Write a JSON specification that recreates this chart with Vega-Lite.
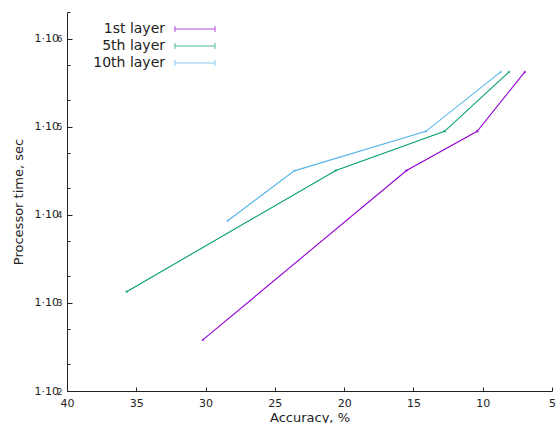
{
  "$schema": "https://vega.github.io/schema/vega-lite/v6.json",
  "autosize": {"type": "none"},
  "width": 485,
  "height": 379,
  "padding": {"left": 67, "top": 12, "right": 5, "bottom": 32},
  "background": "white",
  "config": {
    "font": "DejaVu Sans",
    "view": {"stroke": null},
    "axis": {"domainColor": "#222", "tickColor": "#222", "labelColor": "#222", "titleColor": "#222", "grid": false, "labelFontSize": 11, "titleFontSize": 13, "titleFontWeight": "normal"}
  },
  "data": {
    "values": [
      {"layer": "1st layer", "acc": 30.2, "t": 380},
      {"layer": "1st layer", "acc": 15.5, "t": 31800},
      {"layer": "1st layer", "acc": 10.4, "t": 88500},
      {"layer": "1st layer", "acc": 6.96, "t": 418000},
      {"layer": "5th layer", "acc": 35.7, "t": 1340},
      {"layer": "5th layer", "acc": 20.6, "t": 31800},
      {"layer": "5th layer", "acc": 12.75, "t": 88500},
      {"layer": "5th layer", "acc": 8.1, "t": 418000},
      {"layer": "10th layer", "acc": 28.4, "t": 8550},
      {"layer": "10th layer", "acc": 23.6, "t": 31500},
      {"layer": "10th layer", "acc": 14.1, "t": 88500},
      {"layer": "10th layer", "acc": 8.7, "t": 418000}
    ]
  },
  "encoding": {
    "x": {
      "field": "acc", "type": "quantitative",
      "scale": {"domain": [40, 5], "nice": false, "zero": false},
      "axis": {"title": "Accuracy, %", "values": [40, 35, 30, 25, 20, 15, 10, 5], "tickSize": -4, "labelPadding": 10, "titlePadding": 3, "labelFlush": false, "labelOverlap": false}
    },
    "color": {
      "field": "layer", "type": "nominal",
      "scale": {"domain": ["1st layer", "5th layer", "10th layer"], "range": ["#9400d3", "#009e73", "#56b4e9"]},
      "legend": {
        "title": null,
        "orient": "none",
        "legendX": 121,
        "legendY": 10,
        "padding": 0,
        "symbolType": "M-4,-0.6V0.6M-4,0H4M4,-0.6V0.6",
        "symbolSize": 100,
        "symbolStrokeWidth": 1,
        "symbolFillColor": "transparent",
        "labelAlign": "right",
        "labelOffset": -37,
        "labelFontSize": 14,
        "labelColor": "#222",
        "rowPadding": 3
      }
    }
  },
  "layer": [
    {
      "mark": {"type": "line", "strokeWidth": 1.1},
      "encoding": {
        "y": {
          "field": "t", "type": "quantitative",
          "scale": {"type": "log", "domain": [100, 2000000], "nice": false},
          "axis": {
            "title": "Processor time, sec",
            "values": [100, 200, 500, 1000, 2000, 5000, 10000, 20000, 50000, 100000, 200000, 500000, 1000000, 2000000],
            "labelExpr": "abs(log(datum.value)/LN10 - round(log(datum.value)/LN10)) < 0.001 ? '1·10' : ''",
            "tickSize": {"condition": {"test": "abs(log(datum.value)/LN10 - round(log(datum.value)/LN10)) < 0.001", "value": -5}, "value": -3},
            "labelPadding": 13.5,
            "labelDy": 1.5,
            "titlePadding": 9,
            "labelOverlap": false,
            "labelFlush": false
          }
        }
      }
    },
    {
      "mark": {"type": "point", "filled": true, "size": 6},
      "encoding": {
        "y": {
          "field": "t", "type": "quantitative",
          "axis": {
            "orient": "left",
            "title": null,
            "domain": false,
            "ticks": false,
            "tickSize": 0,
            "values": [100, 1000, 10000, 100000, 1000000],
            "labelExpr": "round(log(datum.value)/LN10) + ''",
            "labelFontSize": 8.5,
            "labelPadding": 5,
            "labelDy": -3.5,
            "labelOverlap": false,
            "labelFlush": false
          }
        }
      }
    }
  ],
  "resolve": {"axis": {"y": "independent"}}
}
